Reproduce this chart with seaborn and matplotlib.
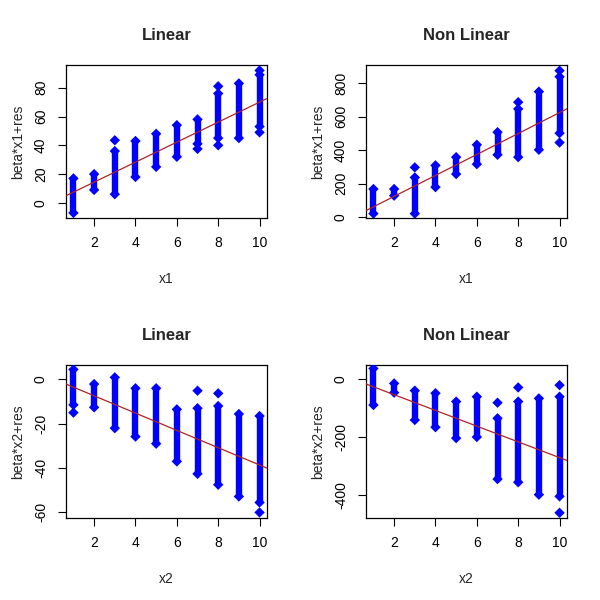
import matplotlib
matplotlib.use("Agg")
import matplotlib.pyplot as plt
import seaborn as sns
import pandas as pd

sns.set_style("white")
plt.rcParams['font.family'] = ['Liberation Sans', 'DejaVu Sans']

xs = [1, 2, 3, 4, 5, 6, 7, 8, 9, 10]

# panel 1: linear, x1
lin1_lo = [-7, 9, 6, 18, 25, 32, 41, 45, 45, 53]
lin1_hi = [17, 20, 36, 43, 48, 54, 58, 76, 83, 89]
lin1_out_x = [3, 7, 8, 8, 10, 10]
lin1_out_y = [43.5, 37.5, 81, 40, 92, 49]
lin1_line = (0.5, 6.95)

# panel 2: non linear, x1
non1_lo = [22, 129, 22, 180, 258, 317, 373, 359, 403, 502]
non1_hi = [169, 169, 238, 310, 359, 433, 508, 647, 750, 839]
non1_out_x = [3, 8, 10, 10]
non1_out_y = [298, 687, 875, 446]
non1_line = (0.0, 62.5)

# panel 3: linear, x2
lin2_lo = [-11.5, -12.6, -22, -25.8, -29, -37, -42.6, -47.5, -52.8, -55.5]
lin2_hi = [4.5, -2.1, 0.9, -4, -4, -13.5, -13, -12, -15.6, -16.5]
lin2_out_x = [1, 7, 8, 10]
lin2_out_y = [-15, -5.1, -6.3, -60]
lin2_line = (0.4, -3.9)

# panel 4: non linear, x2
non2_lo = [-89, -46, -141, -166, -204, -200, -346, -357, -400, -406]
non2_hi = [38, -14, -39, -48, -77, -60, -135, -77, -66, -60]
non2_out_x = [7, 8, 10, 10]
non2_out_y = [-81, -28, -20, -463]
non2_line = (1.5, -27.3)

panels = [
    ("Linear", "x1", "beta*x1+res", lin1_lo, lin1_hi, lin1_out_x, lin1_out_y, lin1_line,
     (-10.5, 95.8), [0, 20, 40, 60, 80], [0.11, 0.6367]),
    ("Non Linear", "x1", "beta*x1+res", non1_lo, non1_hi, non1_out_x, non1_out_y, non1_line,
     (-4, 909), [0, 200, 400, 600, 800], [0.61, 0.6367]),
    ("Linear", "x2", "beta*x2+res", lin2_lo, lin2_hi, lin2_out_x, lin2_out_y, lin2_line,
     (-62.5, 6.5), [0, -20, -40, -60], [0.11, 0.1367]),
    ("Non Linear", "x2", "beta*x2+res", non2_lo, non2_hi, non2_out_x, non2_out_y, non2_line,
     (-481, 50), [0, -200, -400], [0.61, 0.1367]),
]

fig = plt.figure(figsize=(6, 6), dpi=100)

for title, xl, yl, lo, hi, ox, oy, (b0, b1), ylim, yticks, (l, b) in panels:
    ax = fig.add_axes([l, b, 0.335, 0.255])
    ax.vlines(xs, lo, hi, color="#0000FF", linewidth=4.6, zorder=2)
    pts = pd.DataFrame({"x": xs + xs + ox, "y": lo + hi + oy})
    sns.scatterplot(data=pts, x="x", y="y", marker="D", s=28, color="#0000FF",
                    edgecolor="none", ax=ax, zorder=3)
    ax.plot([0, 11], [b0, b0 + 11 * b1], color="#B22222", linewidth=0.9, zorder=4)
    ax.set_xlim(0.64, 10.36)
    ax.set_ylim(*ylim)
    ax.set_xticks([2, 4, 6, 8, 10])
    ax.set_yticks(yticks)
    ax.set_yticklabels([str(t) for t in yticks], rotation=90, va="center")
    ax.tick_params(direction="out", length=6, width=0.8, labelsize=10, pad=7,
                   bottom=True, left=True, colors="black")
    for sp in ax.spines.values():
        sp.set_visible(True)
        sp.set_color("black")
        sp.set_linewidth(0.9)
    ax.set_xlabel(xl, fontsize=10, labelpad=16)
    ax.set_ylabel(yl, fontsize=10, labelpad=6)
    ax.set_title(title, fontsize=12, fontweight="bold", pad=18)

fig.savefig("out.png", dpi=100, facecolor="white")
